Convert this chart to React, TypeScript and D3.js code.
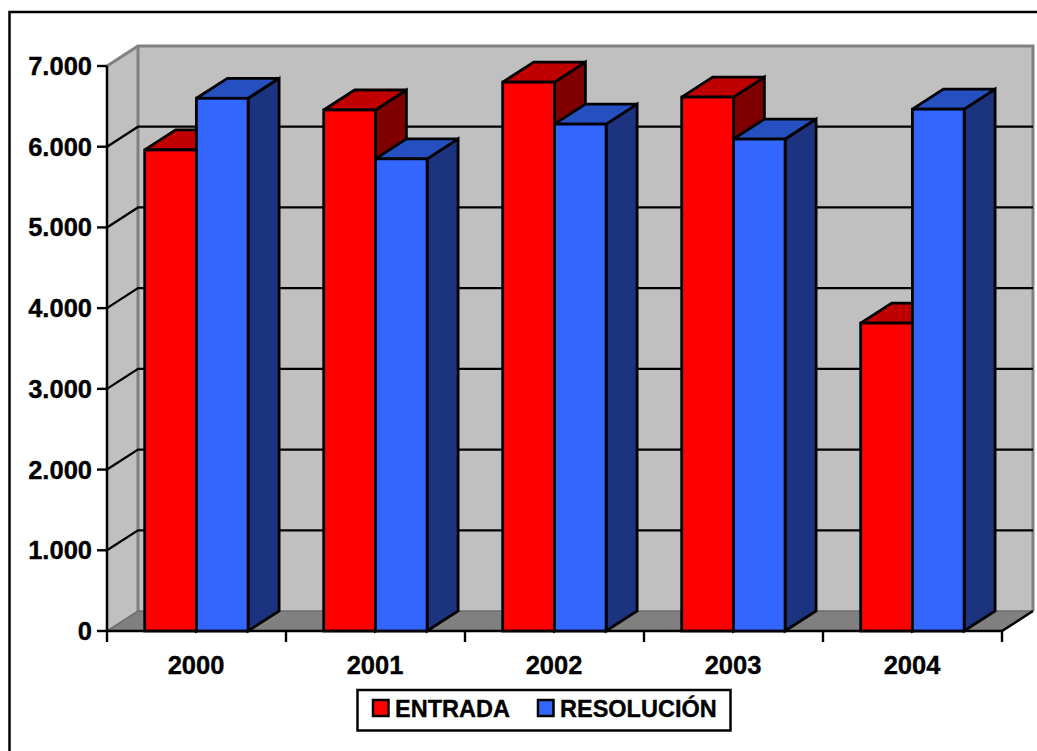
import React from "react";
import * as d3 from "d3";

const categories = ["2000", "2001", "2002", "2003", "2004"];
const entrada = [5960, 6455, 6800, 6615, 3815];
const resolucion = [6600, 5850, 6280, 6095, 6465];
const yTicks = [0, 1000, 2000, 3000, 4000, 5000, 6000, 7000];
const legendLabels = ["ENTRADA", "RESOLUCIÓN"];

const W = 1037, H = 751;
const x0 = 107, x1 = 1002, yBottom = 631, yTop = 66;
const dx = 31, dy = -20;
const barW = 51.7;
const FONT = "'Liberation Sans', Arial, sans-serif";

const yScale = d3.scaleLinear().domain([0, 7000]).range([yBottom, yTop]);
const xBand = d3.scaleBand<string>().domain(categories).range([x0, x1]);
const fmt = (v: number) => (v === 0 ? "0" : d3.format(",")(v).replace(",", "."));
const poly = (pts: [number, number][]) => (d3.line()(pts) ?? "") + "Z";

const seriesStyle = [
  { values: entrada, front: "#ff0000", top: "#c00000", side: "#800000" },
  { values: resolucion, front: "#3366ff", top: "#2650c0", side: "#1c3380" },
];

function Bar({ x, v, s }: { x: number; v: number; s: (typeof seriesStyle)[number] }) {
  const y = yScale(v);
  const st = { stroke: "#000", strokeWidth: 2.8, strokeLinejoin: "miter" as const, strokeMiterlimit: 3 };
  return (
    <g>
      <path d={poly([[x + barW, y], [x + barW + dx, y + dy], [x + barW + dx, yBottom + dy], [x + barW, yBottom]])} fill={s.side} {...st} />
      <path d={poly([[x, y], [x + dx, y + dy], [x + barW + dx, y + dy], [x + barW, y]])} fill={s.top} {...st} />
      <rect x={x} y={y} width={barW} height={yBottom - y} fill={s.front} {...st} />
    </g>
  );
}

export default function App() {
  const bw = xBand.bandwidth();
  const textStroke = { stroke: "#000", strokeWidth: 0.35 };
  return (
    <svg width={W} height={H} style={{ position: "absolute", left: 0, top: 0 }} fontFamily={FONT}>
      <rect width={W} height={H} fill="#fff" />
      {/* outer frame */}
      <path d={`M9.5,${H + 5}V12H${W + 5}`} fill="none" stroke="#000" strokeWidth={2.5} />
      {/* walls */}
      <path d={poly([[x0 + dx, yTop + dy], [x1 + dx, yTop + dy], [x1 + dx, yBottom + dy], [x0 + dx, yBottom + dy]])} fill="#c0c0c0" />
      <path d={poly([[x0, yTop], [x0 + dx, yTop + dy], [x0 + dx, yBottom + dy], [x0, yBottom]])} fill="#c0c0c0" />
      <path d={poly([[x0, yBottom], [x0 + dx, yBottom + dy], [x1 + dx, yBottom + dy], [x1, yBottom]])} fill="#808080" />
      {/* wall edges */}
      <path d={`M${x0},${yTop}L${x0 + dx},${yTop + dy}H${x1 + dx}V${yBottom + dy}`} fill="none" stroke="#808080" strokeWidth={3} />
      <path d={`M${x0 + dx},${yTop + dy}V${yBottom + dy}`} stroke="#808080" strokeWidth={3} fill="none" />
      <path d={`M${x0},${yBottom}L${x0 + dx},${yBottom + dy}H${x1 + dx}`} fill="none" stroke="#6e6e6e" strokeWidth={1.5} />
      {/* gridlines */}
      {yTicks.filter((t) => t > 0 && t < 7000).map((t) => (
        <path key={t} d={`M${x0},${yScale(t)}L${x0 + dx},${yScale(t) + dy}H${x1 + dx}`} fill="none" stroke="#000" strokeWidth={2.3} />
      ))}
      {/* axes */}
      <path d={`M${x0},${yTop}V${yBottom}H${x1}L${x1 + dx},${yBottom + dy}`} fill="none" stroke="#000" strokeWidth={2.5} />
      {yTicks.map((t) => (
        <g key={t}>
          <line x1={x0 - 10} x2={x0} y1={yScale(t)} y2={yScale(t)} stroke="#000" strokeWidth={2.4} />
          <text x={92} y={yScale(t) + 9} textAnchor="end" fontSize={25.5} fontWeight={700} fill="#000" {...textStroke}>{fmt(t)}</text>
        </g>
      ))}
      {d3.range(categories.length + 1).map((i) => (
        <line key={i} x1={x0 + i * bw} x2={x0 + i * bw} y1={yBottom} y2={yBottom + 11} stroke="#000" strokeWidth={2.4} />
      ))}
      {/* bars */}
      {categories.map((c, i) => {
        const center = (xBand(c) ?? 0) + bw / 2 - 0.1;
        return (
          <g key={c}>
            {seriesStyle.map((s, k) => (
              <Bar key={k} x={center - barW + k * barW} v={s.values[i]} s={s} />
            ))}
            <text x={center - 0.4} y={673.5} textAnchor="middle" fontSize={25.5} fontWeight={700} fill="#000" {...textStroke}>{c}</text>
          </g>
        );
      })}
      {/* legend */}
      <rect x={357.5} y={690} width={373} height={40.5} fill="#fff" stroke="#000" strokeWidth={2.5} />
      {legendLabels.map((l, i) => {
        const sx = [373, 538][i];
        return (
          <g key={l}>
            <rect x={sx} y={700} width={15.5} height={16} fill={seriesStyle[i].front} stroke="#000" strokeWidth={2.5} />
            <text x={sx + 22} y={717} fontSize={23.5} fontWeight={700} fill="#000" {...textStroke}>{l}</text>
          </g>
        );
      })}
    </svg>
  );
}
